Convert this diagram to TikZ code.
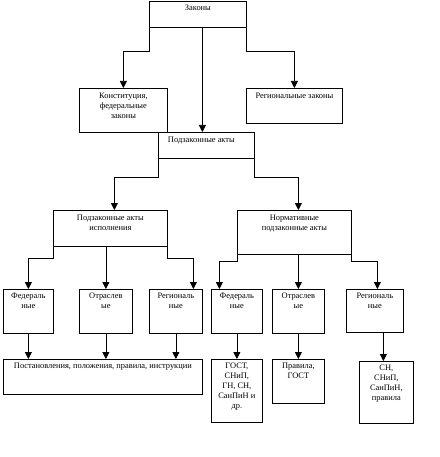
\documentclass[tikz,border=0pt]{standalone}
\usepackage{fontspec}
\setmainfont{Liberation Serif}
\usetikzlibrary{arrows.meta}

\begin{document}
\begin{tikzpicture}[x=1pt, y=-1pt, line width=0.75pt,
	box/.style={draw, inner sep=0pt, anchor=north west},
	txt/.style={anchor=north, align=center, inner sep=0pt, font=\fontsize{8.4}{10}\selectfont},
	arr/.style={-{Triangle[width=7pt, length=7pt]}}]
	
	\useasboundingbox (0,0) rectangle (439,457);
	
	% laws
	\node [box, minimum width=97, minimum height=26] (zak) at (149,1) {};
	\node [txt] (zak-t) at ([yshift=-4]zak.north) {Законы};
	\node [box, minimum width=88, minimum height=44] (konst) at (79,88) {};
	\node [txt] (konst-t) at ([yshift=-5]konst.north) {Конституция,\\федеральные\\законы};
	\node [box, minimum width=96, minimum height=35] (regz) at (246,88) {};
	\node [txt] (regz-t) at ([yshift=-5]regz.north) {Региональные законы};
	\node [box, minimum width=96, minimum height=26] (podz) at (158,132) {};
	\node [txt] (podz-t) at ([xshift=-5, yshift=-5]podz.north) {Подзаконные акты};
	
	% by-laws
	\node [box, minimum width=114, minimum height=36] (isp) at (53,210) {};
	\node [txt] (isp-t) at ([yshift=-5]isp.north) {Подзаконные акты\\исполнения};
	\node [box, minimum width=114, minimum height=44] (norm) at (237,210) {};
	\node [txt] (norm-t) at ([yshift=-5]norm.north) {Нормативные\\подзаконные акты};
	
	% small boxes
	\node [box, minimum width=50, minimum height=44] (fed1) at (3,289) {};
	\node [txt] (fed1-t) at ([yshift=-4]fed1.north) {Федераль\\ные};
	\node [box, minimum width=53, minimum height=44] (otr1) at (79,289) {};
	\node [txt] (otr1-t) at ([yshift=-4]otr1.north) {Отраслев\\ые};
	\node [box, minimum width=53, minimum height=44] (reg1) at (149,289) {};
	\node [txt] (reg1-t) at ([yshift=-4]reg1.north) {Региональ\\ные};
	\node [box, minimum width=51, minimum height=44] (fed2) at (211,289) {};
	\node [txt] (fed2-t) at ([yshift=-4]fed2.north) {Федераль\\ные};
	\node [box, minimum width=52, minimum height=44] (otr2) at (272,289) {};
	\node [txt] (otr2-t) at ([yshift=-4]otr2.north) {Отраслев\\ые};
	\node [box, minimum width=57, minimum height=43] (reg2) at (346,289) {};
	\node [txt] (reg2-t) at ([yshift=-4]reg2.north) {Региональ\\ные};
	
	% bottom row
	\node [box, minimum width=199, minimum height=35] (post) at (3,359) {};
	\node [txt] (post-t) at ([yshift=-4]post.north) {Постановления, положения, правила, инструкции};
	\node [box, minimum width=51, minimum height=63] (gost) at (211,359) {};
	\node [txt] (gost-t) at ([yshift=-4]gost.north) {ГОСТ,\\СНиП,\\ГН, СН,\\СанПиН и\\др.};
	\node [box, minimum width=52, minimum height=44] (prav) at (272,359) {};
	\node [txt] (prav-t) at ([yshift=-4]prav.north) {Правила,\\ГОСТ};
	\node [box, minimum width=54, minimum height=62] (sn) at (359,361) {};
	\node [txt] (sn-t) at ([yshift=-4]sn.north) {СН,\\СНиП,\\СанПиН,\\правила};
	
	% arrows
	\draw [arr] (zak.south west) -- ++(0,24) -| (konst.north);
	\draw [arr] (zak.south east) -- ++(0,24) -| (regz.north);
	\draw [arr] ([xshift=4.5]zak.south) -- ([xshift=4.5]zak.south |- podz.north);
	\draw [arr] (podz.south west) -- ++(0,19) -| ([xshift=4]isp.north);
	\draw [arr] (podz.south east) -- ++(0,19) -| ([xshift=4]norm.north);
	
	\draw [arr] (isp.south west) -- ++(0,12) -| (fed1.north);
	\draw [arr] (otr1.north |- isp.south) -- (otr1.north);
	\draw [arr] (isp.south east) -- ++(0,12) -| ([xshift=17.5]reg1.north);
	\draw [arr] (norm.south west) -- ++(0,7) -| ([xshift=-17.5]fed2.north);
	\draw [arr] (otr2.north |- norm.south) -- (otr2.north);
	\draw [arr] (norm.south east) -- ++(0,7) -| ([xshift=2.5]reg2.north);
	
	\draw [arr] (fed1.south) -- (fed1.south |- post.north);
	\draw [arr] (otr1.south) -- (otr1.south |- post.north);
	\draw [arr] (reg1.south) -- (reg1.south |- post.north);
	\draw [arr] (fed2.south) -- (gost.north);
	\draw [arr] (otr2.south) -- (prav.north);
	\draw [arr] ([xshift=-3]sn.north |- reg2.south) -- ([xshift=-3]sn.north);
	
\end{tikzpicture}
\end{document}
